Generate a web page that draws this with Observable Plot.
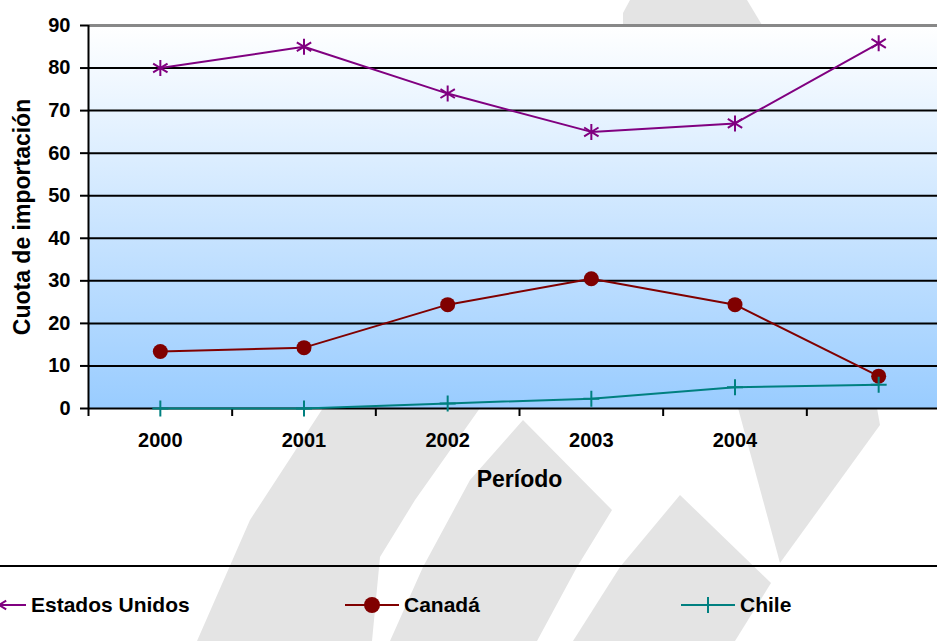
<!DOCTYPE html>
<html>
<head>
<meta charset="utf-8">
<script src="https://cdn.jsdelivr.net/npm/d3@7"></script>
<script src="https://cdn.jsdelivr.net/npm/@observablehq/plot@0.6"></script>
<style>
  html, body { margin: 0; padding: 0; background: #ffffff; overflow: hidden; }
  #wrap { position: relative; width: 937px; height: 641px; overflow: hidden; font-family: "Liberation Sans", Arial, sans-serif; }
  #wm { position: absolute; left: 0; top: 0; z-index: 0; }
  #chart { position: absolute; left: 0; top: 0; z-index: 1; }
  #legend { position: absolute; left: 0; top: 564px; z-index: 1; }
</style>
</head>
<body>
<div id="wrap">
  <svg id="wm" width="937" height="641">
    <g fill="#e4e4e4">
      <polygon points="630,0 747,0 762,25 623,25 623,13"/>
      <polygon points="323,408 480,408 415,500 380,557 372,641 197,641 250,520"/>
      <polygon points="523,420 612,510 577,567 537,641 390,641 423,567 470,480"/>
      <polygon points="680,495 771,583 735,641 573,641 620,567"/>
      <polygon points="738,408 877,408 880,425 780,563"/>
    </g>
  </svg>
  <div id="chart"></div>
  <div id="legend"></div>
</div>
<script>
// ---- data ----
const years = ["2000", "2001", "2002", "2003", "2004", "2005"];
const yearLabels = ["2000", "2001", "2002", "2003", "2004", ""];
const estadosUnidos = [80, 85, 74, 65, 67, 85.8];
const canada = [13.4, 14.3, 24.4, 30.5, 24.4, 7.6];
const chile = [0, 0, 1.2, 2.3, 5.0, 5.6];
const yTicks = [0, 10, 20, 30, 40, 50, 60, 70, 80, 90];
const seriesNames = ["Estados Unidos", "Canadá", "Chile"];
const seriesColors = ["#800080", "#800000", "#008080"];
const yTitle = "Cuota de importación";
const xTitle = "Período";

const seriesValues = [estadosUnidos, canada, chile];
const rows = [];
seriesNames.forEach((s, k) => seriesValues[k].forEach((v, i) => rows.push({series: s, xi: i + 0.5, year: years[i], value: v})));
const bySeries = s => rows.filter(d => d.series === s);
const boundaries = years.map((d, i) => i).concat([years.length]);
const yearRows = years.map((y, i) => ({xi: i + 0.5, label: yearLabels[i]}));

const plusSymbol = {
  draw(ctx, size) {
    const r = Math.sqrt(size / Math.PI);
    ctx.moveTo(-r, 0); ctx.lineTo(r, 0);
    ctx.moveTo(0, -r); ctx.lineTo(0, r);
  }
};
const starSymbol = {
  draw(ctx, size) {
    const r = Math.sqrt(size / Math.PI);
    ctx.moveTo(0, -r); ctx.lineTo(0, r);
    ctx.moveTo(-r * 0.9, -r * 0.55); ctx.lineTo(r * 0.9, r * 0.55);
    ctx.moveTo(-r * 0.9, r * 0.55); ctx.lineTo(r * 0.9, -r * 0.55);
  }
};

const font = "'Liberation Sans', Arial, sans-serif";

const chart = Plot.plot({
  width: 937,
  height: 520,
  marginLeft: 88,
  marginRight: 0,
  marginTop: 25,
  marginBottom: 112,
  x: {domain: [0, years.length], range: [88, 950]},
  y: {domain: [0, 90]},
  color: {domain: seriesNames, range: seriesColors},
  style: {background: "none", overflow: "hidden", fontFamily: font, color: "#000"},
  marks: [
    Plot.frame({fill: "url(#bgGrad)", stroke: "none"}),
    Plot.ruleY(yTicks.filter(d => d > 0 && d < 90), {stroke: "#000", strokeWidth: 2}),
    Plot.ruleY([90], {stroke: "#888888", strokeWidth: 3}),
    Plot.ruleY([0], {stroke: "#000", strokeWidth: 2}),
    Plot.ruleX([0], {y1: 0, y2: 90, stroke: "#000", strokeWidth: 2}),
    Plot.axisY({ticks: yTicks, tickSize: 8, tickPadding: 10, strokeWidth: 2, fontSize: 20, fontWeight: "bold", label: null}),
    Plot.axisX({ticks: boundaries, tickSize: 8, strokeWidth: 2, tickFormat: () => "", label: null}),
    Plot.text(yearRows, {x: "xi", y: () => 0, text: "label", dy: 32, fontSize: 20, fontWeight: "bold", fill: "#000"}),
    Plot.text([xTitle], {x: () => years.length / 2, y: () => 0, text: d => d, dy: 71, fontSize: 23, fontWeight: "bold", fill: "#000"}),
    Plot.text([yTitle], {frameAnchor: "left", textAnchor: "middle", text: d => d, rotate: -90, dx: -66, fontSize: 23, fontWeight: "bold", fill: "#000"}),
    Plot.line(rows, {x: "xi", y: "value", z: "series", stroke: "series", strokeWidth: 2}),
    Plot.dot(bySeries("Estados Unidos"), {x: "xi", y: "value", symbol: starSymbol, r: 8, stroke: seriesColors[0], strokeWidth: 2, fill: "none"}),
    Plot.dot(bySeries("Canadá"), {x: "xi", y: "value", r: 7.5, fill: seriesColors[1], stroke: "none"}),
    Plot.dot(bySeries("Chile"), {x: "xi", y: "value", symbol: plusSymbol, r: 8, stroke: seriesColors[2], strokeWidth: 2, fill: "none"})
  ]
});

// gradient definition for plot background
const svgSel = d3.select(chart);
const defs = svgSel.insert("defs", ":first-child");
const grad = defs.append("linearGradient").attr("id", "bgGrad").attr("x1", 0).attr("y1", 0).attr("x2", 0).attr("y2", 1);
grad.append("stop").attr("offset", "0%").attr("stop-color", "#ffffff");
grad.append("stop").attr("offset", "100%").attr("stop-color", "#99ccff");
document.getElementById("chart").appendChild(chart);

// ---- legend ----
const leg = d3.select("#legend").append("svg").attr("width", 937).attr("height", 77).style("display", "block");
leg.append("line").attr("x1", 0).attr("x2", 937).attr("y1", 2).attr("y2", 2).attr("stroke", "#000").attr("stroke-width", 2);
const legendX = [-28, 345, 681];
const ly = 41;
seriesNames.forEach((name, k) => {
  const x0 = legendX[k];
  const g = leg.append("g");
  g.append("line").attr("x1", x0).attr("x2", x0 + 54).attr("y1", ly).attr("y2", ly).attr("stroke", seriesColors[k]).attr("stroke-width", 2);
  const cx = x0 + 27;
  if (k === 0) {
    const r = 8;
    g.append("path").attr("d", `M${cx},${ly - r}L${cx},${ly + r}M${cx - r * 0.9},${ly - r * 0.55}L${cx + r * 0.9},${ly + r * 0.55}M${cx - r * 0.9},${ly + r * 0.55}L${cx + r * 0.9},${ly - r * 0.55}`)
      .attr("stroke", seriesColors[k]).attr("stroke-width", 2).attr("fill", "none");
  } else if (k === 1) {
    g.append("circle").attr("cx", cx).attr("cy", ly).attr("r", 8).attr("fill", seriesColors[k]);
  } else {
    g.append("path").attr("d", `M${cx - 8},${ly}L${cx + 8},${ly}M${cx},${ly - 8}L${cx},${ly + 8}`).attr("stroke", seriesColors[k]).attr("stroke-width", 2);
  }
  g.append("text").attr("x", x0 + 59).attr("y", ly).attr("dy", "0.35em").attr("font-family", font).attr("font-weight", "bold").attr("font-size", 21).attr("fill", "#000").text(name);
});
</script>
</body>
</html>
